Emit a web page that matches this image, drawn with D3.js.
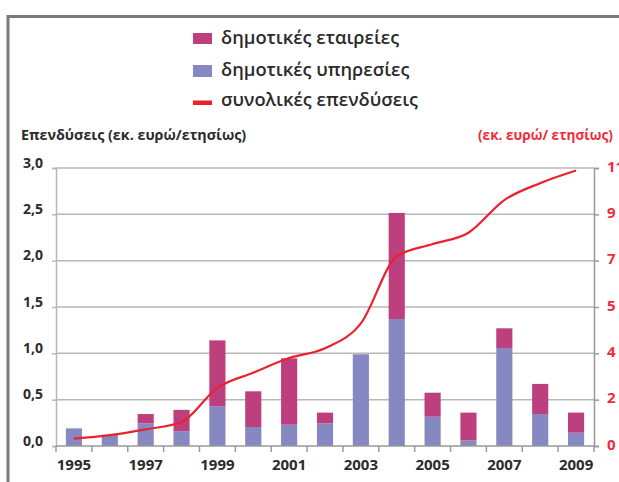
<!DOCTYPE html>
<html><head><meta charset="utf-8">
<script src="https://cdn.jsdelivr.net/npm/d3@7"></script>
<style>body{margin:0;background:#fff;}svg{display:block;font-family:"Open Sans",sans-serif;}</style>
</head><body><svg id="c" width="619" height="482"></svg>
<script>
const years = [1995,1996,1997,1998,1999,2000,2001,2002,2003,2004,2005,2006,2007,2008,2009];
const services = [0.19,0.12,0.245,0.16,0.43,0.205,0.23,0.245,0.99,1.37,0.316,0.06,1.057,0.345,0.144];
const companies = [0,0,0.10,0.23,0.71,0.385,0.716,0.115,0,1.145,0.259,0.30,0.213,0.325,0.216];
const totalInvest = [0.29,0.43,0.66,0.95,2.3,2.9,3.48,3.87,4.85,7.5,7.99,8.44,9.73,10.4,10.9];
const leftTicks = [0,0.5,1.0,1.5,2.0,2.5,3.0];
const leftTickLabels = ["0,0","0,5","1,0","1,5","2,0","2,5","3,0"];
const rightTicks = [0,1.833,3.667,5.5,7.333,9.167,11];
const rightTickLabels = ["0","2","4","5","7","9","11"];
const xTickYears = [1995,1997,1999,2001,2003,2005,2007,2009];
const legendItems = ["δημοτικές εταιρείες","δημοτικές υπηρεσίες","συνολικές επενδύσεις"];

const C_COMP="#bd3f7d", C_SERV="#8688c1", C_LINE="#ec2130", C_RED="#ef2b3c", C_GRID="#b8b8b8", C_TXT="#2b2b2b";
const svg=d3.select("#c");
const L=56,R=594,T=168,B=446;

// frame
svg.append("path").attr("d","M8,482 V16.5 H619").attr("fill","none").attr("stroke","#7a7a7a").attr("stroke-width",3);

const x=d3.scaleBand().domain(years).range([L,R]).paddingInner(0.55).paddingOuter(0.275);
const y=d3.scaleLinear().domain([0,3]).range([B,T]);
const y2=d3.scaleLinear().domain([0,11]).range([B,T]);
const step=x.step();

// gridlines
svg.append("g").selectAll("line").data(leftTicks.slice(1)).join("line")
  .attr("x1",L).attr("x2",R).attr("y1",d=>y(d)).attr("y2",d=>y(d))
  .attr("stroke",C_GRID).attr("stroke-width",1.5);

// bars
const bars=svg.append("g");
years.forEach((yr,i)=>{
  bars.append("rect").attr("x",x(yr)).attr("width",x.bandwidth())
    .attr("y",y(services[i])).attr("height",y(0)-y(services[i])).attr("fill",C_SERV);
  if(companies[i]>0){
    bars.append("rect").attr("x",x(yr)).attr("width",x.bandwidth())
      .attr("y",y(services[i]+companies[i])).attr("height",y(services[i])-y(services[i]+companies[i])).attr("fill",C_COMP);
  }
});

// left axis
const ga=svg.append("g").attr("transform",`translate(${L},0)`)
  .call(d3.axisLeft(y).tickValues(leftTicks).tickFormat((d,i)=>leftTickLabels[i]).tickSize(4).tickPadding(9));
ga.select(".domain").attr("stroke",C_GRID).attr("stroke-width",1.5);
ga.selectAll(".tick line").attr("stroke",C_GRID).attr("stroke-width",1.5);
ga.selectAll("text").attr("fill",C_TXT).attr("font-size",14).attr("font-weight",700).attr("dy","-0.05em").attr("font-family","Open Sans");

// right axis
const gr=svg.append("g").attr("transform",`translate(${R},0)`)
  .call(d3.axisRight(y2).tickValues(rightTicks).tickFormat((d,i)=>rightTickLabels[i]).tickSize(5).tickPadding(8));
gr.select(".domain").attr("stroke","#999").attr("stroke-width",1.5);
gr.selectAll(".tick line").attr("stroke","#999").attr("stroke-width",1.5);
gr.selectAll("text").attr("fill",C_RED).attr("font-size",15).attr("font-weight",700).attr("dy","0.2em").attr("font-family","Open Sans");

// x axis
const gx=svg.append("g").attr("transform",`translate(0,${B})`);
gx.append("line").attr("x1",L).attr("x2",R).attr("stroke","#999").attr("stroke-width",1.5);
gx.selectAll(".tk").data(d3.range(years.length+1)).join("line").attr("class","tk")
  .attr("x1",i=>L+step*i).attr("x2",i=>L+step*i).attr("y1",0).attr("y2",6)
  .attr("stroke","#999").attr("stroke-width",1.5);
gx.selectAll("text").data(xTickYears).join("text")
  .attr("x",d=>x(d)+x.bandwidth()/2).attr("y",24).attr("text-anchor","middle")
  .attr("fill",C_TXT).attr("font-size",15).attr("font-weight",700).text(d=>d);

// line
const line=d3.line().x((d,i)=>x(years[i])+x.bandwidth()/2).y(d=>y2(d)).curve(d3.curveMonotoneX);
svg.append("path").datum(totalInvest).attr("d",line).attr("fill","none").attr("stroke",C_LINE).attr("stroke-width",2.2);

// titles
svg.append("text").attr("x",21).attr("y",140).attr("fill",C_TXT).attr("font-size",14.3).attr("font-weight",700).text("Επενδύσεις (εκ. ευρώ/ετησίως)");
svg.append("text").attr("x",478).attr("y",140).attr("fill",C_RED).attr("font-size",13.6).attr("font-weight",700).text("(εκ. ευρώ/ ετησίως)");

// legend
const lg=svg.append("g");
const lgY=[38,70,100];
lg.append("rect").attr("x",193).attr("y",33).attr("width",19).attr("height",11).attr("fill",C_COMP);
lg.append("rect").attr("x",193).attr("y",65).attr("width",19).attr("height",12).attr("fill",C_SERV);
lg.append("rect").attr("x",193).attr("y",100.5).attr("width",19).attr("height",4.5).attr("fill",C_LINE);
legendItems.forEach((t,i)=>{
  lg.append("text").attr("x",221).attr("y",lgY[i]).attr("dy","0.35em").attr("fill",C_TXT)
    .attr("font-size",18.3).attr("font-weight",600).text(t);
});
</script></body></html>
